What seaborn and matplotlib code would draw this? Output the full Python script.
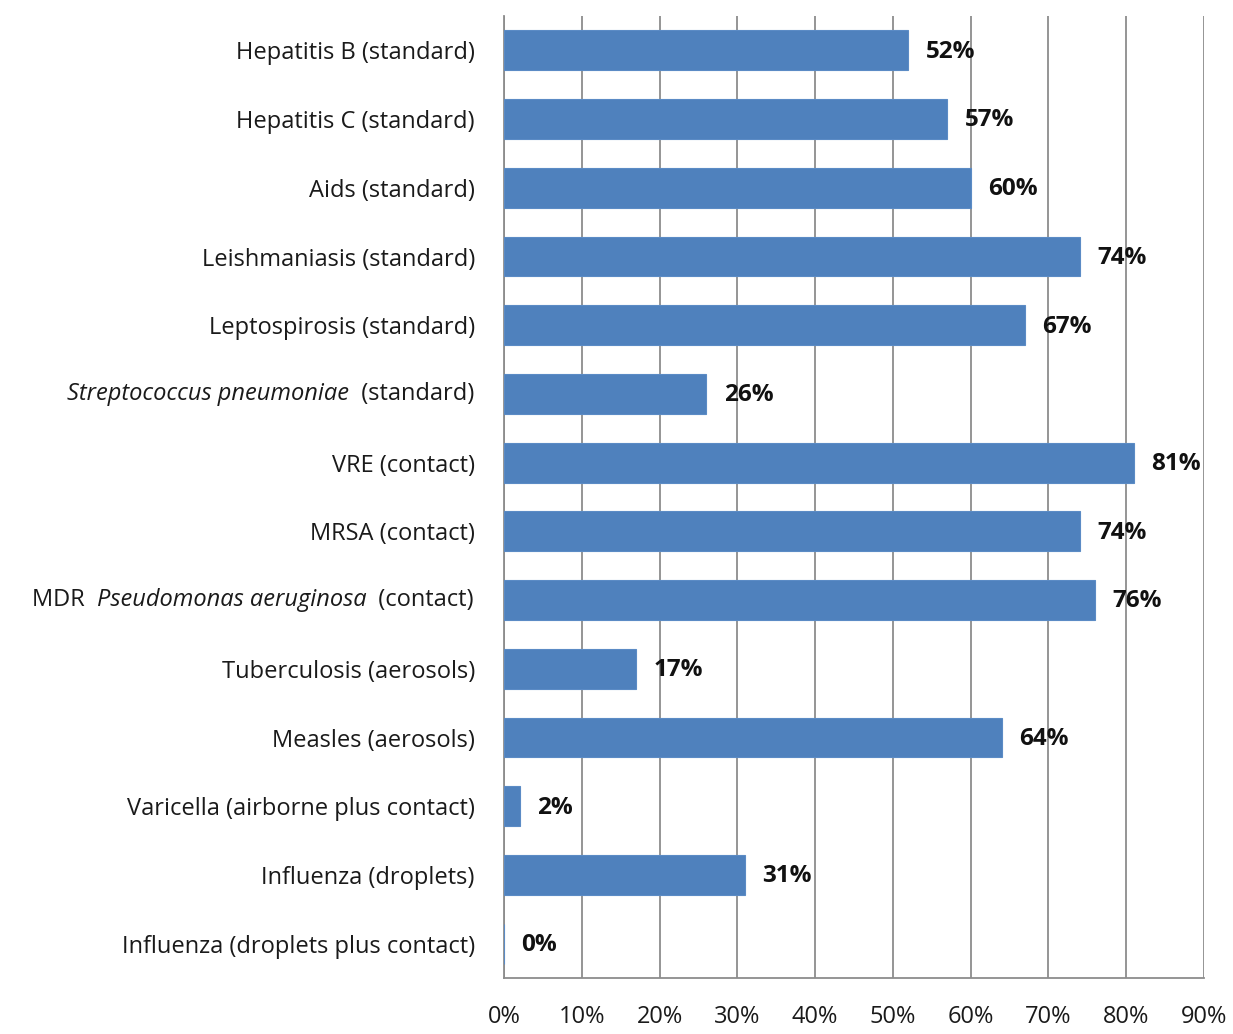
import matplotlib
matplotlib.use("Agg")
import matplotlib.pyplot as plt
import seaborn as sns
import pandas as pd
from matplotlib.ticker import FixedLocator, PercentFormatter

categories = [
    "Hepatitis B (standard)",
    "Hepatitis C (standard)",
    "Aids (standard)",
    "Leishmaniasis (standard)",
    "Leptospirosis (standard)",
    "Streptococcus pneumoniae (standard)",
    "VRE (contact)",
    "MRSA (contact)",
    "MDR Pseudomonas aeruginosa (contact)",
    "Tuberculosis (aerosols)",
    "Measles (aerosols)",
    "Varicella (airborne plus contact)",
    "Influenza (droplets)",
    "Influenza (droplets plus contact)",
]
values = [52, 57, 60, 74, 67, 26, 81, 74, 76, 17, 64, 2, 31, 0]

# labels with italic parts: list of (text, italic) segments
label_parts = {
    "Streptococcus pneumoniae (standard)": [("Streptococcus pneumoniae", True), ("  (standard)", False)],
    "MDR Pseudomonas aeruginosa (contact)": [("MDR  ", False), ("Pseudomonas aeruginosa", True), ("  (contact)", False)],
}

df = pd.DataFrame({"category": categories, "value": values})

sns.set_style("white")
plt.rcParams["font.family"] = ["Open Sans", "DejaVu Sans"]

LBL = 17
fig = plt.figure(figsize=(12.33, 10.34), dpi=100)
ax = fig.add_axes([504 / 1233, 1 - 978 / 1034, 700 / 1233, 962 / 1034])

sns.barplot(data=df, x="value", y="category", orient="h", color="#4F81BD",
            saturation=1, width=0.58, ax=ax, edgecolor="#5B8BC5", linewidth=0.8, zorder=3)

ax.set_xlim(0, 90)
ax.set_ylim(len(categories) - 0.5, -0.5)
ax.set_xlabel("")
ax.set_ylabel("")

grid_c = "#8C8C8C"
ax.set_xticks(range(0, 91, 10))
ax.xaxis.set_major_formatter(PercentFormatter(decimals=0))
ax.grid(axis="x", color=grid_c, linewidth=1.3, zorder=0)
ax.set_axisbelow(True)

for s in ["top", "right"]:
    ax.spines[s].set_visible(False)
for s in ["left", "bottom"]:
    ax.spines[s].set_color(grid_c)
    ax.spines[s].set_linewidth(1.3)

ax.tick_params(axis="x", which="major", direction="out", length=7.5, width=1.3,
               color=grid_c, pad=12, labelsize=17, labelcolor="#1a1a1a")
ax.tick_params(axis="y", which="major", length=0, pad=21, labelsize=LBL, labelcolor="#1a1a1a")
ax.yaxis.set_minor_locator(FixedLocator([i - 0.5 for i in range(len(categories) + 1)]))
ax.tick_params(axis="y", which="minor", direction="out", length=4.5, width=1.3, color=grid_c)

# y tick labels: blank out the mixed-style ones and draw them as chained texts
ticklabels = []
for c in categories:
    ticklabels.append("" if c in label_parts else c)
ax.set_yticks(range(len(categories)))
ax.set_yticklabels(ticklabels)

fig.canvas.draw()
pad_px = 30
for i, c in enumerate(categories):
    if c not in label_parts:
        continue
    parts = label_parts[c]
    prev = None
    for text, ital in reversed(parts):
        style = "italic" if ital else "normal"
        if prev is None:
            prev = ax.annotate(text, xy=(0, i), xycoords=("axes fraction", "data"),
                               xytext=(-pad_px * 0.72, 0), textcoords="offset points",
                               ha="right", va="center", fontsize=LBL, style=style,
                               color="#1a1a1a", annotation_clip=False)
        else:
            prev = ax.annotate(text, xy=(0, 0.5), xycoords=prev,
                               ha="right", va="center", fontsize=LBL, style=style,
                               color="#1a1a1a", annotation_clip=False)

# value labels
for i, v in enumerate(values):
    ax.annotate(f"{v}%", xy=(v, i), xytext=(12.5, -1), textcoords="offset points",
                ha="left", va="center", fontsize=17.5, fontweight="bold", color="#111111",
                annotation_clip=False, zorder=5)

fig.savefig("out.png", dpi=100)
